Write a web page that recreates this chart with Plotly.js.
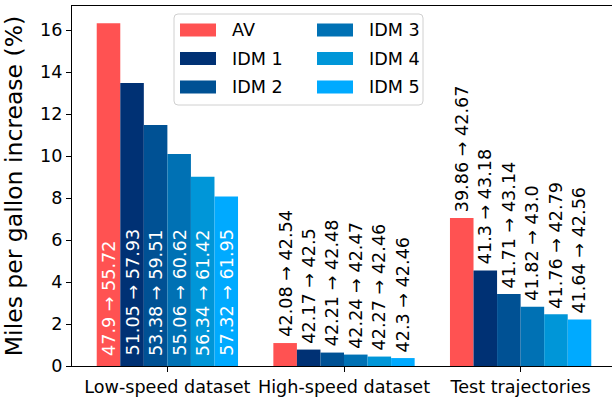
<!DOCTYPE html>
<html>
<head>
<meta charset="utf-8">
<script src="https://cdn.plot.ly/plotly-3.0.1.min.js"></script>
<style>
  html, body { margin: 0; padding: 0; background: #fff; overflow: hidden; }
  #chart { width: 620px; height: 397px; }
</style>
</head>
<body>
<div id="chart"></div>
<script>
// Fuel economy (mpg) before and after smoothing, per dataset and controller.
const categories = ['Low-speed dataset', 'High-speed dataset', 'Test trajectories'];
const seriesNames = ['AV', 'IDM 1', 'IDM 2', 'IDM 3', 'IDM 4', 'IDM 5'];
const seriesColors = ['#ff5252', '#003174', '#005194', '#0071b4', '#0096d8', '#00aaff'];

const mpgBeforeAV   = [47.9, 42.08, 39.86];
const mpgAfterAV    = [55.72, 42.54, 42.67];
const mpgBeforeIDM1 = [51.05, 42.17, 41.3];
const mpgAfterIDM1  = [57.93, 42.5, 43.18];
const mpgBeforeIDM2 = [53.38, 42.21, 41.71];
const mpgAfterIDM2  = [59.51, 42.48, 43.14];
const mpgBeforeIDM3 = [55.06, 42.24, 41.82];
const mpgAfterIDM3  = [60.62, 42.47, 43.0];
const mpgBeforeIDM4 = [56.34, 42.27, 41.76];
const mpgAfterIDM4  = [61.42, 42.46, 42.79];
const mpgBeforeIDM5 = [57.32, 42.3, 41.64];
const mpgAfterIDM5  = [61.95, 42.46, 42.56];

const mpgBefore = [mpgBeforeAV, mpgBeforeIDM1, mpgBeforeIDM2, mpgBeforeIDM3, mpgBeforeIDM4, mpgBeforeIDM5];
const mpgAfter  = [mpgAfterAV, mpgAfterIDM1, mpgAfterIDM2, mpgAfterIDM3, mpgAfterIDM4, mpgAfterIDM5];

const yTickVals = [0, 2, 4, 6, 8, 10, 12, 14, 16];

// Print floats the way Python does (43.0 keeps its decimal).
function fmt(v) { return Number.isInteger(v) ? v.toFixed(1) : String(v); }

const FONT = 'DejaVu Sans, sans-serif';
const TXT = 17.6;
const GROUP_WIDTH = 0.8;
const BAR_W = GROUP_WIDTH / seriesNames.length;

const traces = [];
const annotations = [];

seriesNames.forEach((name, i) => {
  const pct = mpgAfter[i].map((a, k) => (a - mpgBefore[i][k]) / mpgBefore[i][k] * 100);
  traces.push({
    type: 'bar',
    name: name,
    x: categories,
    y: pct,
    marker: { color: seriesColors[i], line: { width: 0 } },
    hoverinfo: 'skip',
    showlegend: false
  });
  // Rotated "before → after" labels: inside the foot of tall bars, above short ones.
  const offset = (i - (seriesNames.length - 1) / 2) * BAR_W;
  pct.forEach((p, k) => {
    const inside = p > 7.5;
    annotations.push({
      xref: 'x', yref: 'y',
      x: k + offset, y: inside ? 0 : p,
      yshift: inside ? 8 : 4,
      xanchor: 'center', yanchor: 'bottom',
      textangle: -90,
      text: fmt(mpgBefore[i][k]) + ' \u2192 ' + fmt(mpgAfter[i][k]),
      showarrow: false,
      font: { family: FONT, size: TXT, color: inside ? '#ffffff' : '#000000' }
    });
  });
});

// Plot-area geometry in pixels, used to place the legend box.
const W = 620, H = 397;
const M = { l: 72, r: 4, t: 6, b: 31 };
const pw = W - M.l - M.r, ph = H - M.t - M.b;
const px = x => (x - M.l) / pw;
const py = y => 1 - (y - M.t) / ph;

function roundRect(x0, y0, x1, y1, r) {
  const X = px, Y = py;
  return 'M' + X(x0 + r) + ',' + Y(y0) +
    ' L' + X(x1 - r) + ',' + Y(y0) +
    ' Q' + X(x1) + ',' + Y(y0) + ' ' + X(x1) + ',' + Y(y0 + r) +
    ' L' + X(x1) + ',' + Y(y1 - r) +
    ' Q' + X(x1) + ',' + Y(y1) + ' ' + X(x1 - r) + ',' + Y(y1) +
    ' L' + X(x0 + r) + ',' + Y(y1) +
    ' Q' + X(x0) + ',' + Y(y1) + ' ' + X(x0) + ',' + Y(y1 - r) +
    ' L' + X(x0) + ',' + Y(y0 + r) +
    ' Q' + X(x0) + ',' + Y(y0) + ' ' + X(x0 + r) + ',' + Y(y0) + ' Z';
}

const shapes = [{
  type: 'path', xref: 'paper', yref: 'paper',
  path: roundRect(174, 14, 423, 105, 4),
  fillcolor: 'rgba(255,255,255,0.8)',
  line: { color: '#d0d0d0', width: 1 }
}];
const colX = [180, 317];
const rowY = [30, 58.5, 87];
seriesNames.forEach((name, i) => {
  const c = Math.floor(i / 3), r = i % 3;
  shapes.push({
    type: 'rect', xref: 'paper', yref: 'paper',
    x0: px(colX[c]), x1: px(colX[c] + 36),
    y0: py(rowY[r] + 6.5), y1: py(rowY[r] - 6.5),
    fillcolor: seriesColors[i], line: { width: 0 }
  });
  annotations.push({
    xref: 'paper', yref: 'paper',
    x: px(colX[c] + 50), y: py(rowY[r]),
    xanchor: 'left', yanchor: 'middle',
    text: name, showarrow: false,
    font: { family: FONT, size: TXT, color: '#000' }
  });
});

const layout = {
  width: W, height: H,
  margin: M,
  paper_bgcolor: '#ffffff',
  plot_bgcolor: '#ffffff',
  font: { family: FONT, size: TXT, color: '#000' },
  barmode: 'group',
  bargap: 1 - GROUP_WIDTH,
  bargroupgap: 0,
  showlegend: false,
  xaxis: {
    type: 'category',
    range: [-0.54, 2.54],
    showgrid: false, zeroline: false,
    showline: true, mirror: true, linecolor: '#000', linewidth: 1,
    ticks: 'outside', ticklen: 5, tickcolor: '#000', tickwidth: 1,
    tickfont: { family: FONT, size: TXT, color: '#000' }
  },
  yaxis: {
    range: [0, 17.15],
    tickvals: yTickVals,
    ticktext: yTickVals.map(String),
    showgrid: false, zeroline: false,
    showline: true, mirror: true, linecolor: '#000', linewidth: 1,
    ticks: 'outside', ticklen: 5, tickcolor: '#000', tickwidth: 1,
    tickfont: { family: FONT, size: TXT, color: '#000' },
    title: { text: 'Miles per gallon increase (%)', font: { family: FONT, size: 23.5, color: '#000' }, standoff: 10 }
  },
  shapes: shapes,
  annotations: annotations
};

Plotly.newPlot('chart', traces, layout, { staticPlot: true, displayModeBar: false });
</script>
</body>
</html>
